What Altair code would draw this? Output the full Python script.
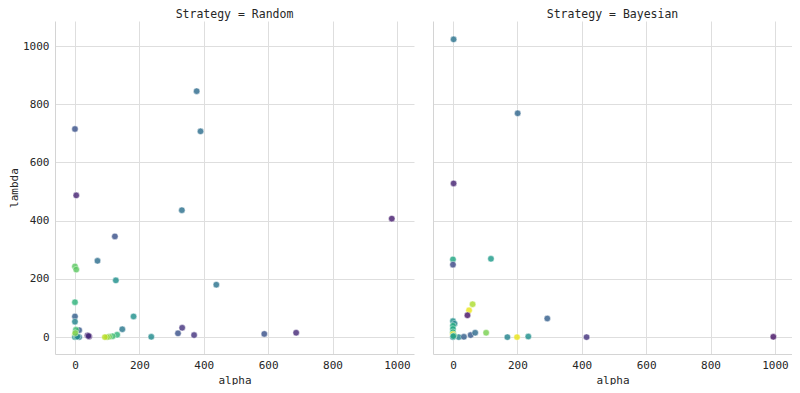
import altair as alt
import pandas as pd

# Random strategy
rand_alpha = [378, 390, 0, 4, 332, 984, 124, 70, 127, 439, 0, 4, 0, 0, 0, 182, 147, 237, 320, 333,
              370, 588, 687, 131, 117, 106, 100, 93, 39, 44, 42, 13, 3, 0, 2, 0, 13, 5, 8, 1]
rand_lambda = [845, 707, 715, 487, 436, 407, 346, 262, 195, 180, 243, 232, 120, 71, 53, 71, 27, 1, 13, 32,
               7, 11, 15, 8, 3, 1, 0, 0, 6, 2, 4, 24, 25, 9, 4, 0, 0, 1, 2, 14]
rand_hue = [0.35, 0.36, 0.25, 0.10, 0.37, 0.08, 0.25, 0.36, 0.50, 0.38, 0.75, 0.75, 0.65, 0.30, 0.45,
            0.50, 0.40, 0.48, 0.25, 0.15, 0.15, 0.25, 0.12, 0.65, 0.70, 0.78, 0.85, 0.90, 0.10, 0.08,
            0.12, 0.28, 0.70, 0.95, 0.90, 0.50, 0.40, 0.55, 0.45, 0.80]

# Bayesian strategy
bay_alpha = [2, 201, 2, 0, 0, 118, 61, 50, 45, 293, 0, 5, 0, 0, 0, 0, 0, 18, 34, 55, 69, 103, 169,
             199, 234, 415, 995, 3, 1]
bay_lambda = [1023, 769, 528, 267, 249, 269, 113, 92, 75, 64, 55, 46, 39, 28, 17, 10, 0, 0, 1, 7, 15,
              15, 0, 0, 2, 0, 1, 5, 3]
bay_hue = [0.38, 0.33, 0.10, 0.60, 0.22, 0.55, 0.88, 0.97, 0.05, 0.30, 0.50, 0.45, 0.62, 0.60, 0.65,
           0.98, 0.45, 0.45, 0.30, 0.28, 0.35, 0.80, 0.45, 0.97, 0.50, 0.15, 0.05, 0.75, 0.55]

ticks = [0, 200, 400, 600, 800, 1000]

df_r = pd.DataFrame({"alpha": rand_alpha, "lambda": rand_lambda, "hue": rand_hue})
df_b = pd.DataFrame({"alpha": bay_alpha, "lambda": bay_lambda, "hue": bay_hue})

FONT = "DejaVu Sans Mono"


def panel(df, title, show_y):
    yaxis = alt.Axis(values=ticks, title="lambda", format="d", labelPadding=6, titlePadding=3) if show_y else \
        alt.Axis(values=ticks, title=None, labels=False)
    return alt.Chart(df, title=alt.TitleParams(title, font=FONT, fontSize=11.5, fontWeight="normal",
                                                color="#262626", anchor="middle", offset=1)).mark_circle(
        size=42, opacity=0.82, stroke="white", strokeWidth=0.5
    ).encode(
        x=alt.X("alpha:Q", scale=alt.Scale(domain=[-62, 1053], nice=False, zero=False),
                axis=alt.Axis(values=ticks, title="alpha", format="d", labelPadding=5, titlePadding=4)),
        y=alt.Y("lambda:Q", scale=alt.Scale(domain=[-58, 1086], nice=False, zero=False), axis=yaxis),
        color=alt.Color("hue:Q", scale=alt.Scale(scheme="viridis", domain=[0, 1]), legend=None),
    ).properties(width=359, height=333)


chart = alt.hconcat(panel(df_r, "Strategy = Random", True), panel(df_b, "Strategy = Bayesian", False),
                    spacing=19).configure_view(stroke=None).configure_axis(
    grid=True, gridColor="#dedede", gridWidth=1, domainColor="#d4d4d4", domainWidth=1,
    ticks=False, labelFont=FONT, titleFont=FONT, labelFontSize=11, titleFontSize=11,
    labelColor="#262626", titleColor="#262626", titleFontWeight="normal"
).properties(background="white", padding=0)

chart.save("out.html", embed_options={"renderer": "svg", "actions": False})
